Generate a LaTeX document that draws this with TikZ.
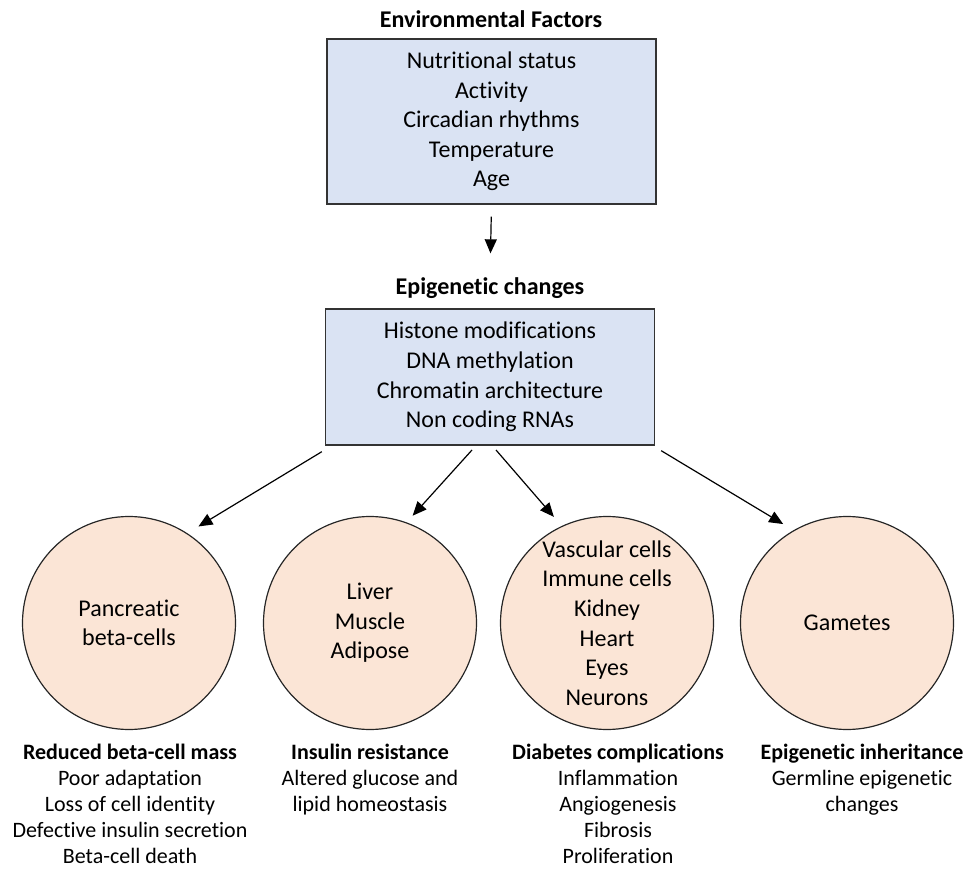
\documentclass[tikz,border=0pt]{standalone}
\usepackage{fontspec}
\setmainfont{Carlito}[Ligatures=NoCommon]
\usepackage{xcolor}
\usepackage{tikz}
\usetikzlibrary{arrows.meta}
\definecolor{boxblue}{HTML}{DAE3F3}
\definecolor{cellpeach}{HTML}{FBE5D6}

\begin{document}
\begin{tikzpicture}[x=1pt,y=1pt,
    factorbox/.style={draw=black!80,fill=boxblue,line width=1.4pt,minimum width=329pt,align=center,font=\fontsize{24}{29.6}\selectfont},
    tissue/.style={circle,draw=black!85,fill=cellpeach,line width=1.2pt,minimum size=213pt,inner sep=0pt,align=center,font=\fontsize{24}{29.6}\selectfont},
    heading/.style={font=\bfseries\fontsize{24}{29}\selectfont,inner sep=0pt},
    outcome/.style={align=center,anchor=north,inner sep=0pt,font=\fontsize{22}{26}\selectfont},
    arr/.style={-{Triangle[length=14pt,width=12pt]},line width=1.2pt}]
    \useasboundingbox (0,0) rectangle (972,-869);
    \node[heading] (envtitle) at (491,-19) {Environmental Factors};
    \node[factorbox,minimum height=165pt] (env) at (491.5,-121.5) {Nutritional status\\Activity\\Circadian rhythms\\Temperature\\Age};
    \node[heading] (epititle) at (490,-288) {Epigenetic changes};
    \node[factorbox,minimum height=136pt] (epi) at (490,-377) {Histone modifications\\DNA methylation\\Chromatin architecture\\Non coding RNAs};
    \draw[arr,shorten <=12pt,shorten >=24pt] (env.south) -- (epititle.north);

    \node[tissue] (pc) at (129,-623) {Pancreatic\\beta-cells};
    \node[tissue] (lc) at (370,-623) {Liver\\Muscle\\Adipose};
    \node[tissue] (vc) at (607,-623) {Vascular cells\\Immune cells\\Kidney\\Heart\\Eyes\\Neurons};
    \node[tissue] (gc) at (847,-623) {Gametes};

    \coordinate (s1) at ([xshift=-3pt,yshift=-6pt]epi.south west);
    \coordinate (s2) at (472,-450);
    \coordinate (s3) at (496,-450);
    \coordinate (s4) at ([xshift=6pt,yshift=-5pt]epi.south east);
    \draw[arr,shorten >=13pt] (s1) -- (pc.57);
    \draw[arr,shorten >=9pt] (s2) -- (lc.70);
    \draw[arr,shorten >=12pt] (s3) -- (vc.115);
    \draw[arr,shorten >=12pt] (s4) -- (gc.120);

    \node[outcome] (pcout) at (130,-744) {\textbf{Reduced beta-cell mass}\\Poor adaptation\\Loss of cell identity\\Defective insulin secretion\\Beta-cell death};
    \node[outcome] (lcout) at (370,-744) {\textbf{Insulin resistance}\\Altered glucose and\\lipid homeostasis};
    \node[outcome] (vcout) at (618,-744) {\textbf{Diabetes complications}\\Inflammation\\Angiogenesis\\Fibrosis\\Proliferation};
    \node[outcome] (gcout) at (862,-744) {\textbf{Epigenetic inheritance}\\Germline epigenetic\\changes};
\end{tikzpicture}
\end{document}
